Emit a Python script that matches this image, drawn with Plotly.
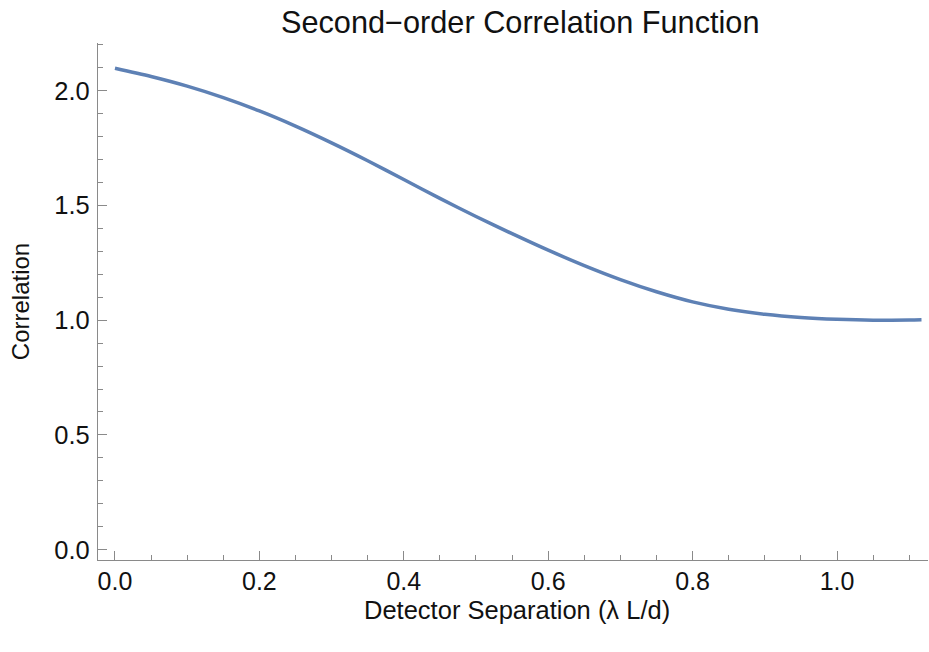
import plotly.graph_objects as go

separation = [0.0, 0.05, 0.1, 0.15, 0.2, 0.25, 0.3, 0.35, 0.4, 0.45, 0.5, 0.55,
              0.6, 0.65, 0.7, 0.75, 0.8, 0.85, 0.9, 0.95, 1.0, 1.05, 1.1, 1.117]
correlation = [2.098, 2.062, 2.020, 1.970, 1.912, 1.846, 1.773, 1.695, 1.613, 1.531, 1.452, 1.377,
               1.305, 1.238, 1.177, 1.124, 1.080, 1.048, 1.026, 1.012, 1.004, 1.000, 1.001, 1.002]

x_ticks = [0.0, 0.2, 0.4, 0.6, 0.8, 1.0]
x_tick_labels = ["0.0", "0.2", "0.4", "0.6", "0.8", "1.0"]
y_ticks = [0.0, 0.5, 1.0, 1.5, 2.0]
y_tick_labels = ["0.0", "0.5", "1.0", "1.5", "2.0"]

FONT = "Liberation Sans, Arial, sans-serif"
AXIS = "#8a8a8a"
TXT = "#111111"

fig = go.Figure()
fig.add_trace(go.Scatter(
    x=separation, y=correlation, mode="lines",
    line=dict(color="#5E81B5", width=3.5, shape="spline", smoothing=0.8),
    hoverinfo="x+y", showlegend=False,
))

fig.update_layout(
    width=929, height=652,
    margin=dict(l=98, r=1, t=43, b=92, autoexpand=False),
    paper_bgcolor="white", plot_bgcolor="white",
    font=dict(family=FONT, size=24, color=TXT),
    title=dict(text="Second\u2212order Correlation Function",
               font=dict(family=FONT, size=30.7, color=TXT),
               x=0.56, xref="container", xanchor="center",
               y=1 - 22 / 652, yref="container", yanchor="middle"),
    annotations=[dict(
        text="Detector Separation (\u03bb L/d)", showarrow=False,
        xref="paper", yref="paper", x=0.505, y=-50 / 517,
        xanchor="center", yanchor="middle",
        font=dict(family=FONT, size=25.5, color=TXT),
    )],
)

fig.update_xaxes(
    range=[-0.0235, 1.126], showgrid=False, zeroline=False, automargin=False,
    showline=True, linecolor=AXIS, linewidth=1.2,
    tickmode="array", tickvals=x_ticks, ticktext=x_tick_labels,
    ticks="inside", ticklen=9, tickwidth=1.2, tickcolor=AXIS,
    minor=dict(dtick=0.05, tick0=0, ticks="inside", ticklen=5, tickwidth=1, tickcolor=AXIS, showgrid=False),
    tickfont=dict(family=FONT, size=25, color=TXT),
    ticklabelstandoff=-1,
)
fig.update_yaxes(
    range=[-0.045, 2.208], showgrid=False, zeroline=False, automargin=False,
    showline=True, linecolor=AXIS, linewidth=1.2,
    tickmode="array", tickvals=y_ticks, ticktext=y_tick_labels,
    ticks="inside", ticklen=9, tickwidth=1.2, tickcolor=AXIS,
    minor=dict(dtick=0.1, tick0=0, ticks="inside", ticklen=5, tickwidth=1, tickcolor=AXIS, showgrid=False),
    tickfont=dict(family=FONT, size=25.5, color=TXT),
    ticklabelstandoff=2,
    title=dict(text="Correlation", font=dict(family=FONT, size=24, color=TXT), standoff=17),
)

fig.write_html("out.html", config={"displayModeBar": False},
               post_script="document.body.style.margin='0px';")
